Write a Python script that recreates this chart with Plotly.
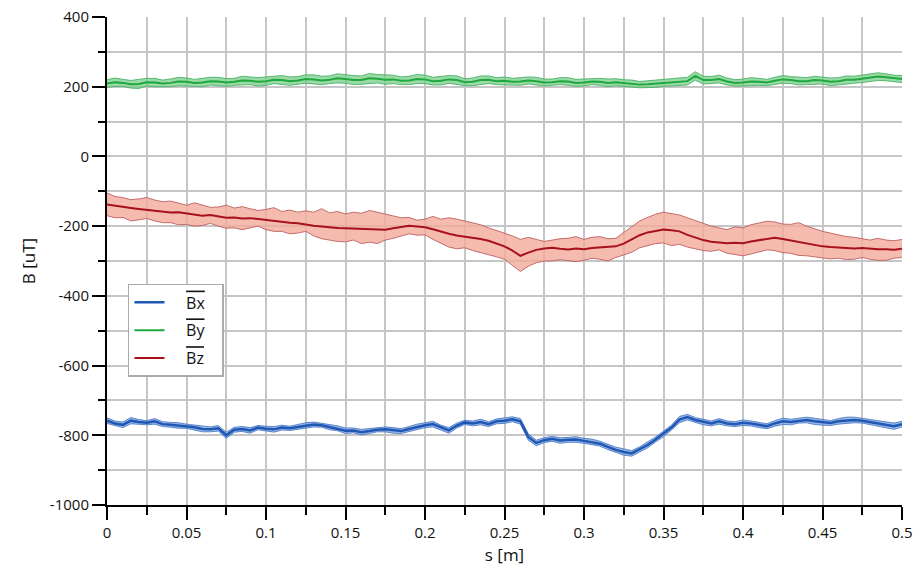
import numpy as np
import plotly.graph_objects as go

# sampling positions s [m]
s = [round(i * 0.005, 3) for i in range(101)]

bx_mean = [-758, -766, -770, -758, -762, -764, -760, -768, -770, -772,
           -774, -777, -782, -783, -780, -800, -784, -782, -786, -778,
           -781, -783, -778, -780, -776, -772, -769, -771, -776, -780,
           -787, -786, -791, -788, -784, -783, -786, -788, -782, -776,
           -771, -768, -778, -786, -772, -763, -766, -762, -768, -760,
           -758, -754, -760, -805, -822, -814, -810, -815, -813, -812,
           -816, -819, -824, -833, -842, -848, -852, -840, -828, -812,
           -796, -778, -755, -748, -756, -762, -766, -760, -766, -768,
           -764, -766, -770, -774, -766, -760, -762, -758, -756, -760,
           -763, -765, -760, -757, -756, -758, -762, -766, -770, -774,
           -768]
bx_hw = [8, 7, 8, 9, 7, 6, 8, 7, 7, 8,
         6, 7, 8, 7, 8, 9, 7, 7, 8, 6,
         7, 8, 7, 6, 7, 8, 7, 6, 8, 7,
         8, 7, 8, 7, 6, 7, 8, 7, 7, 8,
         7, 8, 7, 8, 7, 6, 7, 8, 7, 7,
         8, 7, 8, 9, 8, 7, 7, 8, 7, 8,
         7, 8, 7, 8, 8, 9, 8, 7, 8, 7,
         8, 7, 9, 8, 7, 8, 7, 8, 7, 7,
         8, 7, 8, 7, 8, 9, 8, 7, 8, 9,
         8, 7, 8, 9, 8, 7, 8, 9, 8, 9,
         8]

by_mean = [209, 213, 211, 207, 208, 213, 212, 209, 211, 215,
           214, 211, 212, 216, 215, 212, 214, 218, 217, 214,
           216, 220, 219, 216, 218, 222, 221, 218, 220, 224,
           222, 219, 219, 224, 223, 220, 221, 217, 218, 222,
           221, 216, 217, 221, 219, 213, 214, 219, 220, 216,
           217, 214, 215, 218, 216, 212, 213, 216, 215, 211,
           212, 215, 214, 211, 213, 211, 209, 206, 207, 209,
           211, 213, 214, 216, 231, 219, 219, 222, 215, 211,
           212, 215, 214, 212, 217, 221, 219, 216, 216, 219,
           218, 214, 216, 220, 220, 223, 226, 229, 227, 224,
           222]
by_hw = [11, 12, 10, 11, 13, 11, 12, 10, 11, 12,
         11, 10, 12, 11, 12, 11, 10, 12, 11, 12,
         12, 11, 13, 12, 11, 12, 13, 12, 11, 13,
         12, 13, 12, 14, 12, 13, 12, 11, 12, 13,
         12, 11, 12, 11, 12, 10, 11, 12, 11, 10,
         11, 10, 11, 10, 11, 10, 9, 10, 11, 10,
         10, 9, 10, 11, 10, 9, 10, 9, 10, 11,
         10, 11, 10, 11, 12, 11, 10, 11, 10, 9,
         10, 11, 10, 9, 10, 11, 10, 11, 10, 11,
         10, 11, 10, 11, 10, 11, 10, 11, 10, 9,
         10]

bz_mean = [-138, -142, -146, -148, -151, -153, -156, -158, -161, -160,
           -164, -167, -170, -168, -173, -176, -175, -178, -177, -180,
           -182, -184, -187, -190, -192, -196, -199, -201, -204, -205,
           -206, -207, -209, -208, -211, -210, -206, -203, -199, -201,
           -203, -209, -216, -222, -227, -230, -233, -237, -242, -249,
           -258, -270, -285, -276, -268, -264, -262, -265, -267, -264,
           -266, -263, -262, -260, -258, -250, -238, -226, -218, -213,
           -210, -212, -215, -225, -233, -240, -245, -247, -249, -248,
           -249, -244, -240, -236, -233, -237, -241, -246, -250, -255,
           -258, -260, -262, -263, -264, -263, -265, -266, -266, -268,
           -265]
bz_upper = [-105, -115, -118, -124, -122, -118, -125, -130, -128, -135,
            -140, -133, -140, -146, -145, -140, -148, -144, -150, -155,
            -152, -147, -158, -154, -160, -156, -160, -150, -162, -158,
            -165, -160, -163, -155, -160, -165, -170, -176, -175, -183,
            -180, -172, -180, -176, -180, -186, -190, -196, -205, -212,
            -220, -228, -238, -232, -238, -244, -240, -236, -235, -230,
            -238, -232, -230, -236, -235, -218, -200, -185, -175, -166,
            -160, -164, -168, -176, -185, -192, -200, -206, -210, -202,
            -205, -196, -192, -186, -188, -194, -195, -190, -200, -208,
            -215, -220, -225, -230, -232, -236, -240, -235, -240, -242,
            -238]
bz_lower = [-170, -176, -175, -185, -182, -178, -185, -190, -190, -196,
            -195, -200, -198, -192, -200, -206, -205, -210, -205, -200,
            -210, -215, -215, -222, -220, -215, -228, -236, -240, -244,
            -245, -240, -250, -246, -250, -240, -235, -228, -222, -226,
            -225, -238, -250, -260, -265, -262, -270, -276, -280, -288,
            -295, -312, -330, -315, -305, -300, -300, -296, -298, -302,
            -298, -292, -295, -300, -290, -282, -275, -262, -255, -250,
            -248, -256, -252, -260, -265, -270, -272, -268, -278, -282,
            -285, -280, -275, -268, -270, -276, -278, -284, -285, -288,
            -290, -294, -292, -296, -295, -290, -295, -298, -298, -292,
            -290]

x_ticks = [0, 0.05, 0.1, 0.15, 0.2, 0.25, 0.3, 0.35, 0.4, 0.45, 0.5]
x_labels = ["0", "0.05", "0.1", "0.15", "0.2", "0.25", "0.3", "0.35", "0.4", "0.45", "0.5"]
y_ticks = [-1000, -800, -600, -400, -200, 0, 200, 400]
y_labels = ["-1000", "-800", "-600", "-400", "-200", "0", "200", "400"]

FONT = "Open Sans"

fig = go.Figure()

def band(x, lo, hi, edge, fill):
    fig.add_trace(go.Scatter(x=x, y=hi, mode="lines", line=dict(color=edge, width=1),
                             showlegend=False, hoverinfo="skip"))
    fig.add_trace(go.Scatter(x=x, y=lo, mode="lines", line=dict(color=edge, width=1),
                             fill="tonexty", fillcolor=fill, showlegend=False, hoverinfo="skip"))

by_lo = (np.array(by_mean) - np.array(by_hw)).tolist()
by_hi = (np.array(by_mean) + np.array(by_hw)).tolist()
bx_lo = (np.array(bx_mean) - np.array(bx_hw)).tolist()
bx_hi = (np.array(bx_mean) + np.array(bx_hw)).tolist()

band(s, by_lo, by_hi, "rgba(70,180,95,0.9)", "rgba(120,205,140,0.75)")
band(s, bz_lower, bz_upper, "rgba(190,95,95,0.9)", "rgba(242,170,155,0.8)")
band(s, bx_lo, bx_hi, "rgba(80,125,200,0.9)", "rgba(120,160,220,0.75)")

ov = '&nbsp;&nbsp;&nbsp;&nbsp;<span style="text-decoration:overline">%s</span>&nbsp;&nbsp;&nbsp;'
fig.add_trace(go.Scatter(x=s, y=bx_mean, mode="lines", name=ov % "Bx", legendgroup="x",
                         line=dict(color="#1f57b5", width=2.5)))
fig.add_trace(go.Scatter(x=s, y=by_mean, mode="lines", name=ov % "By", legendgroup="y",
                         line=dict(color="#1fa83c", width=2)))
fig.add_trace(go.Scatter(x=s, y=bz_mean, mode="lines", name=ov % "Bz", legendgroup="z",
                         line=dict(color="#a8101c", width=2)))

grid = "#c6c6c6"
fig.update_layout(
    width=915, height=568,
    margin=dict(l=107, r=13, t=17, b=63),
    paper_bgcolor="white", plot_bgcolor="white",
    font=dict(family=FONT, size=15, color="#111"),
    legend=dict(x=0.0264, y=0.453, xanchor="left", yanchor="top",
                traceorder="grouped",
                bgcolor="white", bordercolor="#aaaaaa", borderwidth=1.5,
                font=dict(size=16), tracegroupgap=4),
    xaxis=dict(range=[0, 0.5], tickmode="array", tickvals=x_ticks, ticktext=x_labels,
               ticks="outside", ticklen=13, tickwidth=1.5, tickcolor="black",
               showline=True, linecolor="black", linewidth=2, automargin=False,
               showgrid=True, gridcolor=grid, gridwidth=1.5, zeroline=False,
               minor=dict(dtick=0.025, tick0=0, ticks="outside", ticklen=8, tickwidth=1.5,
                          tickcolor="black", showgrid=True, gridcolor=grid, gridwidth=1.5),
               title=dict(text="s [m]", font=dict(size=17), standoff=8)),
    yaxis=dict(range=[-1000, 400], tickmode="array", tickvals=y_ticks, ticktext=y_labels,
               ticks="outside", ticklen=13, tickwidth=1.5, tickcolor="black",
               showline=True, linecolor="black", linewidth=2, automargin=False,
               showgrid=True, gridcolor=grid, gridwidth=1.5, zeroline=False,
               minor=dict(dtick=100, tick0=0, ticks="outside", ticklen=7, tickwidth=1.5,
                          tickcolor="black", showgrid=True, gridcolor=grid, gridwidth=1.5),
               title=dict(text="B [uT]", font=dict(size=17), standoff=10)),
)

fig.write_html("out.html")
